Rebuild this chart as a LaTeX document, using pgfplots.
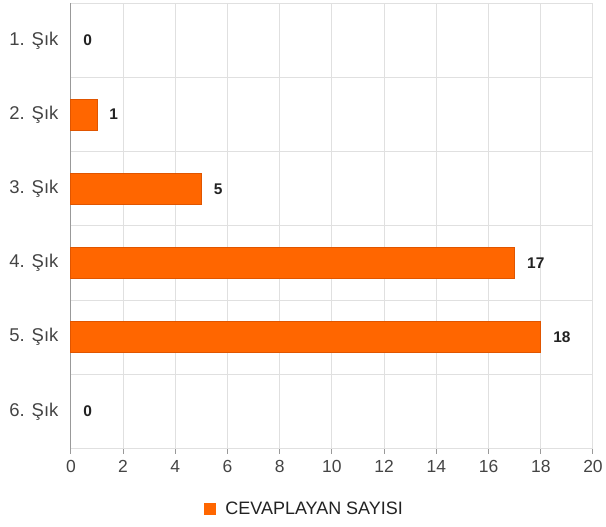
\documentclass[border=0pt]{standalone}
\usepackage{fontspec}
\setmainfont{Liberation Sans}
\usepackage{pgfplots}
\pgfplotsset{compat=1.18}
\definecolor{barfill}{HTML}{FF6600}
\definecolor{barline}{HTML}{E05500}
\definecolor{gridc}{HTML}{E0E0E0}
\definecolor{axisc}{HTML}{999999}
\definecolor{tickt}{HTML}{444444}
\definecolor{valt}{HTML}{222222}
\begin{document}
\begin{tikzpicture}
\begin{axis}[
  scale only axis,
  width=523bp, height=446bp,
  xbar, bar width=31bp, bar shift=0pt,
  y dir=reverse,
  xmin=0, xmax=20, ymin=0.5, ymax=6.5,
  axis x line=bottom, axis y line=left,
  axis line style={draw=axisc, line width=1pt, -},
  xtick={0,2,...,20},
  xmajorgrids, grid style={draw=gridc, line width=1pt},
  tick align=outside,
  major tick length=5bp,
  x tick style={draw=axisc, line width=1pt},
  ytick={1,...,6},
  yticklabels={1. Şık,2. Şık,3. Şık,4. Şık,5. Şık,6. Şık},
  y tick style={draw=none},
  extra y ticks={0.5,1.5,...,6.5},
  extra y tick labels={},
  extra y tick style={grid=major, tick style={draw=axisc, line width=1pt}},
  ticklabel style={font=\fontsize{17.5bp}{21bp}\selectfont, text=tickt},
  y tick label style={xshift=-4bp, font=\fontsize{18.5bp}{22bp}\selectfont},
  x tick label style={yshift=-3bp},
  /pgf/number format/assume math mode=true,
  legend style={at={(0.447,-0.135)}, anchor=center, draw=none, font=\fontsize{18bp}{21bp}\selectfont, text=valt, legend cell align=left,
    /tikz/every odd column/.append style={column sep=8bp}},
  legend image code/.code={\fill[barfill] (0bp,-5.5bp) rectangle (11bp,5.5bp);},
  clip=false,
]
\addplot[fill=barfill, draw=barline, line width=0.8pt] coordinates {(1,2) (5,3) (17,4) (18,5)};
\addlegendentry{CEVAPLAYAN SAYISI}
\addplot[forget plot, draw=none, fill=none,
  nodes near coords,
  every node near coord/.append style={font=\bfseries\fontsize{15.5bp}{18bp}\selectfont, text=valt, anchor=west, xshift=9bp}]
  coordinates {(0,1) (1,2) (5,3) (17,4) (18,5) (0,6)};
\end{axis}
\path ([xshift=-71bp,yshift=-78bp]current axis.south west) rectangle ([xshift=12bp,yshift=2bp]current axis.north east);
\end{tikzpicture}
\end{document}
